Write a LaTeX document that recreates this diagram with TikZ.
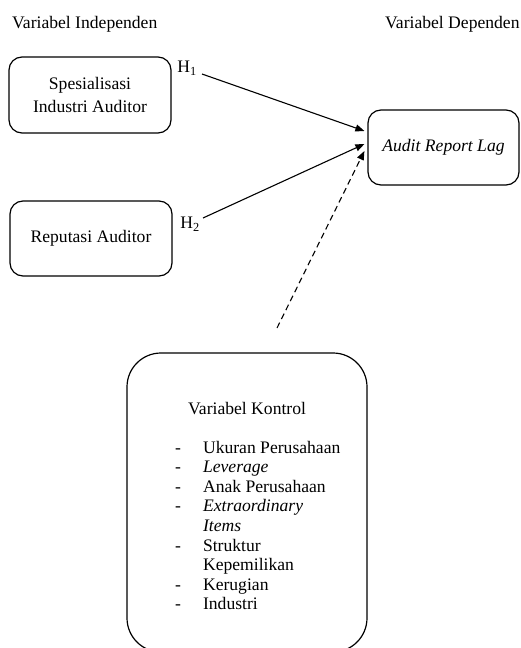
\documentclass[tikz,border=0pt]{standalone}
\usepackage{fontspec}
\setmainfont{Liberation Serif}
\usetikzlibrary{arrows.meta, calc}

\begin{document}
\begin{tikzpicture}[x=1pt, y=-1pt]
   \tikzstyle{txt}=[font=\fontsize{17.6}{19.6}\selectfont, inner sep=0pt]
   \tikzstyle{box}=[draw, line width=1.2pt, rounded corners=13pt, align=center, inner sep=0pt, font=\fontsize{17.6}{19.6}\selectfont]
   \tikzstyle{arr}=[line width=1.1pt, -{Triangle[length=9pt, width=7pt]}]
   \useasboundingbox (0,0) rectangle (520,648);

   % judul kolom
   \node[txt, anchor=base west] (indep) at (12,28) {Variabel Independen};
   \node[txt, anchor=base west] (dep) at (385,28) {Variabel Dependen};

   % variabel
   \node[box, minimum width=162pt, minimum height=76pt, font=\fontsize{17.6}{23}\selectfont] (sia) at (90,95) {Spesialisasi\\Industri Auditor};
   \node[box, minimum width=162pt, minimum height=75pt] (ra) at (91,238.5) {Reputasi Auditor};
   \node[box, minimum width=151pt, minimum height=75pt] (arl) at (443.5,147.5) {\textit{Audit Report Lag}};
   \node[box, rounded corners=34pt, minimum width=240pt, minimum height=299pt] (ktrl) at (247,502.5) {};

   \node[txt] (h1) at (187,68) {H\textsubscript{1}};
   \node[txt] (h2) at (190,224) {H\textsubscript{2}};

   % isi variabel kontrol
   \node[txt, anchor=base west] (judul) at (188,414) {Variabel Kontrol};
   \node[txt, anchor=base west] (daftar) at (175,453) {%
      \begin{tabular}[t]{@{}l@{\hspace{22pt}}l@{}}
      - & Ukuran Perusahaan\\
      - & \textit{Leverage}\\
      - & Anak Perusahaan\\
      - & \textit{Extraordinary}\\
        & \textit{Items}\\
      - & Struktur\\
        & Kepemilikan\\
      - & Kerugian\\
      - & Industri
      \end{tabular}};

   \coordinate (p1) at (202,74);
   \coordinate (p2) at (203,218);
   \coordinate (p3) at (277,328);

   \draw[arr] (p1) -- ([xshift=-3pt, yshift=16.5pt]arl.west);
   \draw[arr] (p2) -- ([xshift=-3pt, yshift=3.5pt]arl.west);
   \draw[arr, dash pattern=on 6pt off 4pt] (p3) -- ([xshift=-3pt, yshift=-3.5pt]arl.west);
\end{tikzpicture}
\end{document}
